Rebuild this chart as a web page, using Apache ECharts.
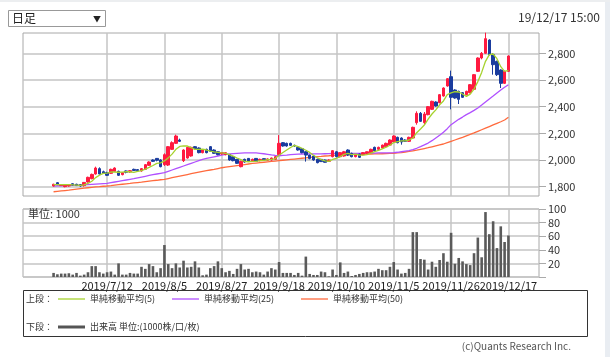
<!DOCTYPE html>
<html><head><meta charset="utf-8">
<script src="https://cdn.jsdelivr.net/npm/echarts@6/dist/echarts.min.js"></script>
<style>html,body{margin:0;padding:0;background:#fff}#c{width:610px;height:357px}</style>
</head><body><div id="c"></div>
<script>
const dates = ['2019/6/24','2019/6/25','2019/6/26','2019/6/27','2019/6/28','2019/7/1','2019/7/2','2019/7/3','2019/7/4','2019/7/5','2019/7/8','2019/7/9','2019/7/10','2019/7/11','2019/7/12','2019/7/16','2019/7/17','2019/7/18','2019/7/19','2019/7/22','2019/7/23','2019/7/24','2019/7/25','2019/7/26','2019/7/29','2019/7/30','2019/7/31','2019/8/1','2019/8/2','2019/8/5','2019/8/6','2019/8/7','2019/8/8','2019/8/9','2019/8/13','2019/8/14','2019/8/15','2019/8/16','2019/8/19','2019/8/20','2019/8/21','2019/8/22','2019/8/23','2019/8/26','2019/8/27','2019/8/28','2019/8/29','2019/8/30','2019/9/2','2019/9/3','2019/9/4','2019/9/5','2019/9/6','2019/9/9','2019/9/10','2019/9/11','2019/9/12','2019/9/13','2019/9/17','2019/9/18','2019/9/19','2019/9/20','2019/9/24','2019/9/25','2019/9/26','2019/9/27','2019/9/30','2019/10/1','2019/10/2','2019/10/3','2019/10/4','2019/10/7','2019/10/8','2019/10/9','2019/10/10','2019/10/11','2019/10/15','2019/10/16','2019/10/17','2019/10/18','2019/10/21','2019/10/23','2019/10/24','2019/10/25','2019/10/28','2019/10/29','2019/10/30','2019/10/31','2019/11/1','2019/11/5','2019/11/6','2019/11/7','2019/11/8','2019/11/11','2019/11/12','2019/11/13','2019/11/14','2019/11/15','2019/11/18','2019/11/19','2019/11/20','2019/11/21','2019/11/22','2019/11/25','2019/11/26','2019/11/27','2019/11/28','2019/11/29','2019/12/2','2019/12/3','2019/12/4','2019/12/5','2019/12/6','2019/12/9','2019/12/10','2019/12/11','2019/12/12','2019/12/13','2019/12/16','2019/12/17'];
const labelDates = ['2019/7/12','2019/8/5','2019/8/27','2019/9/18','2019/10/10','2019/11/5','2019/11/26','2019/12/17'];
const priceTicks = [1800,2000,2200,2400,2600,2800];
const volumeTicks = [20,40,60,80,100];
// [open, close, low, high]
const ohlc = [
[1805,1818,1800,1822],[1830,1815,1812,1835],[1808,1815,1805,1820],[1800,1812,1795,1815],[1805,1815,1800,1818],
[1822,1812,1808,1825],[1818,1808,1805,1822],[1815,1805,1800,1820],[1808,1832,1800,1835],[1835,1870,1830,1875],
[1860,1892,1855,1898],[1895,1940,1890,1950],[1935,1895,1890,1945],[1912,1900,1895,1920],[1905,1885,1880,1912],
[1900,1930,1895,1935],[1915,1940,1910,1945],[1915,1885,1880,1920],[1890,1905,1885,1910],[1918,1908,1900,1922],
[1910,1920,1905,1925],[1930,1922,1918,1935],[1928,1920,1915,1932],[1918,1935,1912,1940],[1930,1965,1925,1970],
[1960,1985,1955,1990],[2000,1990,1985,2005],[2012,1998,1990,2015],[2000,1950,1945,2005],[1965,2040,1955,2050],
[1962,2100,1955,2105],[2080,2130,2075,2140],[2125,2180,2120,2190],[2150,2140,2135,2160],[1995,2075,1985,2080],
[2015,2095,2010,2100],[2030,2095,2025,2100],[2100,2085,2080,2105],[2090,2055,2050,2095],[2055,2075,2050,2080],
[2080,2055,2050,2085],[2100,2065,2060,2105],[2075,2050,2045,2080],[2062,2040,2035,2065],[2045,2055,2040,2060],
[2040,2055,2035,2060],[2040,2000,1995,2045],[2025,1995,1990,2030],[2005,1975,1970,2008],[1950,1990,1945,1995],
[2005,1985,1980,2010],[2012,1990,1985,2015],[1990,2005,1985,2010],[2012,1990,1985,2015],[1995,2005,1990,2010],
[2010,2000,1995,2012],[1998,2008,1995,2012],[2000,2015,1995,2018],[2005,2025,2000,2030],[2040,2125,2030,2187],
[2130,2105,2100,2135],[2125,2105,2100,2130],[2125,2110,2105,2130],[2110,2105,2100,2115],[2095,2075,2070,2100],
[2085,2055,2050,2090],[2062,2037,1988,2065],[2037,2012,2005,2040],[2030,2000,1995,2035],[2005,1980,1975,2010],
[2005,1988,1985,2008],[2000,1983,1980,2003],[1990,2000,1985,2005],[2025,2070,2020,2075],[2062,2025,2020,2068],
[2025,2055,2020,2060],[2030,2062,2025,2068],[2075,2037,2030,2080],[2050,2025,2020,2055],[2025,2042,2020,2045],
[2045,2020,2015,2048],[2040,2055,2035,2060],[2050,2062,2045,2065],[2055,2080,2050,2085],[2095,2070,2065,2100],
[2080,2095,2075,2100],[2090,2112,2085,2115],[2100,2125,2095,2130],[2112,2150,2108,2155],[2135,2180,2128,2185],
[2170,2130,2125,2175],[2165,2135,2115,2170],[2150,2140,2135,2155],[2140,2170,2135,2175],[2165,2245,2160,2250],
[2280,2350,2265,2365],[2350,2290,2285,2360],[2280,2345,2270,2360],[2340,2400,2335,2405],[2380,2440,2375,2445],
[2435,2405,2400,2440],[2430,2490,2425,2495],[2480,2540,2475,2545],[2555,2610,2550,2615],[2625,2470,2380,2670],
[2525,2465,2460,2530],[2515,2455,2420,2520],[2505,2470,2465,2510],[2490,2515,2485,2520],[2505,2565,2500,2570],
[2530,2640,2525,2645],[2665,2765,2660,2770],[2765,2800,2755,2810],[2800,2910,2795,2955],[2900,2790,2785,2905],
[2790,2715,2640,2800],[2740,2640,2630,2745],[2675,2575,2540,2680],[2575,2665,2570,2670],[2665,2780,2660,2785]
];
const ma5 = [1815,1815,1816,1815,1815,1814,1812,1810,1814,1825,1841,1868,1886,1900,1902,1910,1910,1908,1909,1913,
1912,1908,1915,1921,1932,1945,1959,1975,1978,1993,2016,2044,2080,2102,2106,2105,2093,2080,2080,2082,
2075,2066,2061,2057,2053,2050,2040,2029,2015,2003,1989,1987,1989,1990,1995,1998,2002,2005,2011,2035,
2056,2075,2094,2110,2100,2088,2073,2057,2036,2017,2003,1993,1990,2004,2013,2026,2042,2050,2041,2044,
2037,2036,2041,2052,2063,2072,2084,2096,2111,2131,2138,2143,2144,2150,2164,2205,2233,2262,2307,2345,
2376,2414,2443,2490,2503,2512,2510,2495,2477,2494,2531,2588,2657,2740,2790,2795,2760,2700,2665,2672];
const ma25 = [1805,1806,1807,1808,1809,1810,1811,1812,1813,1815,1817,1819,1821,1823,1825,
1830,1835,1840,1845,1850,1855,1860,1866,1872,1878,1884,1890,1895,1900,1905,
1915,1925,1935,1945,1955,1965,1975,1985,1995,2005,2012,2018,2024,2030,2037,
2042,2045,2048,2050,2052,2053,2054,2054,2053,2050,2047,2043,2038,2034,2032,
2035,2037,2040,2042,2044,2045,2046,2046,2046,2046,2046,2047,2048,2049,2050,
2050,2050,2050,2050,2050,2050,2051,2051,2052,2052,2053,2053,2054,2054,2055,
2058,2062,2066,2070,2078,2088,2100,2113,2127,2145,2165,2185,2208,2235,2265,
2285,2305,2322,2340,2355,2372,2390,2412,2435,2458,2480,2503,2525,2545,2565];
const ma50 = [1762,1765,1768,1771,1774,1778,1782,1786,1789,1792,1795,1798,1800,1803,1805,
1808,1812,1815,1818,1821,1824,1828,1831,1834,1838,1842,1845,1848,1852,1855,
1861,1867,1873,1879,1885,1891,1897,1903,1909,1915,1920,1925,1930,1936,1942,
1946,1950,1954,1958,1962,1966,1970,1974,1977,1980,1983,1986,1989,1992,1995,
1998,2001,2004,2007,2010,2013,2016,2019,2022,2025,2027,2030,2032,2035,2037,
2038,2039,2040,2041,2042,2043,2044,2045,2045,2046,2046,2047,2048,2049,2050,
2053,2056,2060,2064,2069,2074,2080,2086,2092,2099,2106,2113,2120,2130,2140,
2150,2160,2170,2181,2192,2203,2215,2227,2239,2251,2263,2275,2287,2300,2320];
const volume = [6,4,5,5,5.5,3.5,6,2,3.5,7,16,16,7,5,7,8,3.5,20,3.5,3.5,
6,5,5,15,12,19,16,7,13,47,19,13,20,14,24,14,15,23,14,2.5,
3.5,13,16,23,13,7,9,4.5,12,19,11,12,7,8,7,3.5,8,13,11,22,
6,6,6,3,6,2,30,4.5,3,3,8,7,1,11,3,21.5,6,8,1.5,3,
4.5,6,7,7,8,12,10,10,15,22,11,5,6,12,66,66,26.5,25.5,11,22.5,
15,25,35,22.5,65,19.5,28,23,19,17.5,35,58,29,95.5,63,82,42.5,74.5,51.5,61];

const PAD = 8;
const cats = [];
for (let i = 0; i < PAD; i++) cats.push('s' + i);
dates.forEach(d => cats.push(d));
for (let i = 0; i < PAD; i++) cats.push('e' + i);
const labelSet = new Set(labelDates.map(d => dates.indexOf(d) + PAD));
const showAt = (i) => labelSet.has(i);

const FONT = '"Noto Sans CJK JP", "DejaVu Sans", sans-serif';
const GRID_COLOR = '#c4c4c4';
const L = 23, W = 516;
const yPx = (v) => 186.67 - (v - 1800) * 26.667 / 200;

const chart = echarts.init(document.getElementById('c'), null, {renderer: 'canvas'});
const hiddenCat = (g) => ({type:'category', gridIndex:g, data:cats, boundaryGap:false,
  axisLine:{show:false}, axisTick:{show:false}, axisLabel:{show:false}, splitLine:{show:false}});

const option = {
  animation: false,
  grid: [
    {left:L, top:33, width:W, height:163, show:true, borderColor:'#a8a8a8', borderWidth:1, backgroundColor:'#fff'},
    {left:L, top:yPx(2800), width:W, height:yPx(1800)-yPx(2800), show:false},
    {left:L, top:209, width:W, height:68, show:true, borderColor:'#a8a8a8', borderWidth:1, backgroundColor:'#fff'}
  ],
  xAxis: [
    Object.assign(hiddenCat(0), {splitLine:{show:true, interval:showAt, lineStyle:{color:GRID_COLOR, width:1.5}}}),
    hiddenCat(1),
    Object.assign(hiddenCat(2), {
      splitLine:{show:true, interval:showAt, lineStyle:{color:GRID_COLOR, width:1.5}},
      axisLabel:{show:true, interval:showAt, color:'#222', fontSize:11, fontFamily:FONT, margin:3}
    })
  ],
  yAxis: [
    {type:'value', gridIndex:0, min:0, max:1, show:false},
    {type:'value', gridIndex:1, min:priceTicks[0], max:priceTicks[priceTicks.length-1], interval:200, position:'right',
      axisLine:{show:false}, axisTick:{show:true, length:7, lineStyle:{color:'#aaa'}},
      axisLabel:{color:'#333', fontSize:11, fontFamily:FONT, margin:9, formatter:(v)=>v.toLocaleString('en-US')},
      splitLine:{show:true, lineStyle:{color:GRID_COLOR, width:1.5}}},
    {type:'value', gridIndex:2, min:0, max:volumeTicks[volumeTicks.length-1], interval:20, position:'right',
      axisLine:{show:false}, axisTick:{show:true, length:7, lineStyle:{color:'#aaa'}},
      axisLabel:{color:'#333', fontSize:11, fontFamily:FONT, margin:9, formatter:(v)=> volumeTicks.includes(v) ? String(v) : ''},
      splitLine:{show:true, lineStyle:{color:GRID_COLOR, width:1.5}}}
  ],
  series: [
    {type:'line', xAxisIndex:1, yAxisIndex:1, data:ma50.map((v,i)=>[i+PAD,v]), symbol:'none', clip:false,
      lineStyle:{color:'#ff6a3d', width:1.3}, z:3},
    {type:'line', xAxisIndex:1, yAxisIndex:1, data:ma25.map((v,i)=>[i+PAD,v]), symbol:'none', clip:false,
      lineStyle:{color:'#b050ff', width:1.3}, z:3},
    {type:'candlestick', xAxisIndex:1, yAxisIndex:1, clip:false, barWidth:3,
      data: ohlc.map((d,i)=>[i+PAD, d[0], d[1], d[2], d[3]]), encode:{x:0, y:[1,2,3,4]},
      itemStyle:{color:'#ff1a40', color0:'#1a3c9e', borderColor:'#ff1a40', borderColor0:'#1a3c9e', borderWidth:1}, z:4},
    {type:'line', xAxisIndex:1, yAxisIndex:1, data:ma5.map((v,i)=>[i+PAD,v]), symbol:'none', clip:false,
      lineStyle:{color:'#a6d22e', width:1.3}, z:5},
    {type:'bar', xAxisIndex:2, yAxisIndex:2, data:volume.map((v,i)=>[i+PAD,v]), barWidth:2.6,
      itemStyle:{color:'#5a5a5a'}}
  ],
  graphic: [
    {type:'rect', left:605, top:0, shape:{width:5, height:357}, style:{fill:'#e9edf2'}, silent:true},
    {type:'rect', left:0, top:0, shape:{width:610, height:2}, style:{fill:'#eceef0'}, silent:true},
    {type:'rect', shape:{x:8.5, y:10.5, width:97, height:16}, style:{fill:'#fff', stroke:'#999', lineWidth:1}},
    {type:'text', x:12, y:18.5, style:{text:'日足', fontSize:12, fontFamily:FONT, fill:'#222', verticalAlign:'middle'}},
    {type:'text', x:93, y:18.5, style:{text:'▼', fontSize:8, fontFamily:FONT, fill:'#222', verticalAlign:'middle'}},
    {type:'text', x:600, y:17, style:{text:'19/12/17 15:00', fontSize:12, fontFamily:FONT, fill:'#333', align:'right', verticalAlign:'middle'}},
    {type:'text', x:28, y:214, style:{text:'単位: 1000', fontSize:11, fontFamily:FONT, fill:'#333', verticalAlign:'middle'}, z:10},
    {type:'rect', shape:{x:23.5, y:290.5, width:564, height:46}, style:{fill:'#fff', stroke:'#333', lineWidth:1}},
    {type:'text', x:26, y:299, style:{text:'上段：', fontSize:9, fontFamily:FONT, fill:'#333', verticalAlign:'middle'}},
    {type:'line', shape:{x1:58, y1:299, x2:85, y2:299}, style:{stroke:'#a6d22e', lineWidth:1.3}},
    {type:'text', x:90, y:299, style:{text:'単純移動平均(5)', fontSize:9, fontFamily:FONT, fill:'#333', verticalAlign:'middle'}},
    {type:'line', shape:{x1:172, y1:299, x2:199, y2:299}, style:{stroke:'#b050ff', lineWidth:1.3}},
    {type:'text', x:204, y:299, style:{text:'単純移動平均(25)', fontSize:9, fontFamily:FONT, fill:'#333', verticalAlign:'middle'}},
    {type:'line', shape:{x1:301, y1:299, x2:328, y2:299}, style:{stroke:'#ff6a3d', lineWidth:1.3}},
    {type:'text', x:333, y:299, style:{text:'単純移動平均(50)', fontSize:9, fontFamily:FONT, fill:'#333', verticalAlign:'middle'}},
    {type:'text', x:26, y:327, style:{text:'下段：', fontSize:9, fontFamily:FONT, fill:'#333', verticalAlign:'middle'}},
    {type:'line', shape:{x1:58, y1:327, x2:85, y2:327}, style:{stroke:'#555', lineWidth:3}},
    {type:'text', x:90, y:327, style:{text:'出来高 単位:(1000株/口/枚)', fontSize:9, fontFamily:FONT, fill:'#333', verticalAlign:'middle'}},
    {type:'text', x:571, y:346, style:{text:'(c)Quants Research Inc.', fontSize:10, fontFamily:FONT, fill:'#555', align:'right', verticalAlign:'middle'}}
  ]
};
chart.setOption(option);
</script>
</body></html>
